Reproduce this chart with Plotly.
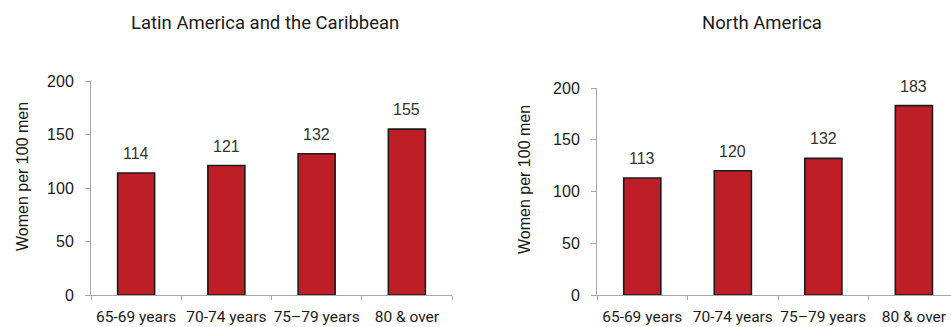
import plotly.graph_objects as go

W, H = 951, 327

age_groups = ["65-69 years", "70-74 years", "75–79 years", "80 & over"]
latin_america = [114, 121, 132, 155]
north_america = [113, 120, 132, 183]
y_ticks = [0, 50, 100, 150, 200]
panel_titles = ["Latin America and the Caribbean", "North America"]
y_title = "Women per 100 men"

BAR_FILL = "#BE1E26"
BAR_EDGE = "#1c1c1c"
AXIS_GREY = "#a8a8a8"
TEXT = "#1a1a1a"
NUM_FONT = "Liberation Sans"


def px_x(p):
    return p / W


def px_y(p):
    return (H - p) / H


fig = go.Figure()

panels = [
    # (values, x-axis id, y-axis id, x domain px, y domain px, x range)
    (latin_america, "x", "y", (91, 452), (295, 81), [-0.5, 3.5]),
    (north_america, "x2", "y2", (597, 951), (295, 88), [-0.5, 3.41]),
]

for i, (vals, xa, ya, xd, yd, xr) in enumerate(panels):
    fig.add_trace(go.Bar(
        x=age_groups, y=vals, xaxis=xa, yaxis=ya,
        marker=dict(color=BAR_FILL, line=dict(color=BAR_EDGE, width=1.6)),
        width=0.41, showlegend=False, hoverinfo="x+y",
    ))
    suffix = "" if i == 0 else "2"
    fig.update_layout(**{
        "xaxis" + suffix: dict(
            domain=[px_x(xd[0]), px_x(xd[1])], range=xr, type="category",
            showline=True, linecolor=AXIS_GREY, linewidth=1,
            ticks="outside", tickson="boundaries", ticklen=4, tickcolor=AXIS_GREY,
            tickfont=dict(family="Roboto", size=15.5, color=TEXT),
            tickangle=0, automargin=False,
            ticklabelstandoff=7, showgrid=False, zeroline=False,
            anchor=ya,
        ),
        "yaxis" + suffix: dict(
            domain=[px_y(yd[0]), px_y(yd[1])], range=[0, 200],
            tickvals=y_ticks, showline=True, linecolor=AXIS_GREY, linewidth=1,
            ticks="outside", ticklen=5, tickcolor=AXIS_GREY,
            tickfont=dict(family=NUM_FONT, size=16, color=TEXT),
            ticklabelstandoff=8, showgrid=False, zeroline=False,
            automargin=False, anchor=xa,
        ),
    })
    # value labels above each bar
    for cat, v in zip(age_groups, vals):
        fig.add_annotation(
            x=cat, y=v, xref=xa, yref=ya, text=str(v), showarrow=False,
            yanchor="bottom", yshift=9,
            font=dict(family=NUM_FONT, size=16, color="#333333"),
        )

# panel titles
for cx, title in zip([265, 762], panel_titles):
    fig.add_annotation(
        x=px_x(cx), y=px_y(23), xref="paper", yref="paper", text=title,
        showarrow=False, xanchor="center", yanchor="middle",
        font=dict(family="Roboto", size=18.5, color=TEXT),
    )

# y-axis titles
for cx, cy in [(22, 177), (524, 180)]:
    fig.add_annotation(
        x=px_x(cx), y=px_y(cy), xref="paper", yref="paper", text=y_title,
        showarrow=False, textangle=-90, xanchor="center", yanchor="middle",
        font=dict(family="Liberation Sans", size=16, color=TEXT),
    )

fig.update_layout(
    width=W, height=H, margin=dict(l=0, r=0, t=0, b=0),
    paper_bgcolor="white", plot_bgcolor="white",
    bargap=0.59,
)

fig.write_html("out.html", config={"displayModeBar": False})
